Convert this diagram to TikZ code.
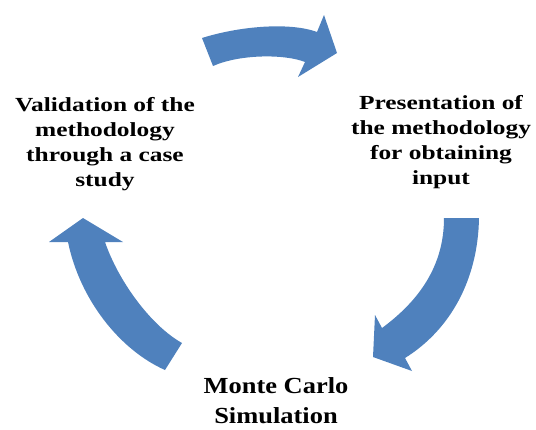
\documentclass[tikz,border=0pt]{standalone}
\usepackage{fontspec}
\setmainfont{Liberation Serif}
\usepackage{graphicx}
\definecolor{arrowblue}{RGB}{79,129,189}
\begin{document}
\begin{tikzpicture}[x=1pt,y=-1pt,
  cyclearrow/.style={fill=arrowblue,draw=none},
  label/.style={inner sep=0pt,align=center}]
\useasboundingbox (0,0) rectangle (536,429);
% top arrow
\path[cyclearrow] (202,38) .. controls (240,26) and (290,22) .. (317,32)
  -- (324,15) -- (337,53) -- (298,77) -- (305,62)
  .. controls (285,54) and (240,54) .. (213,66) -- cycle;
% right arrow
\path[cyclearrow] (444,218) -- (479,218)
  .. controls (478,280) and (450,330) .. (405,358)
  -- (412,371) -- (373,357) -- (375,315) -- (382,328)
  .. controls (420,300) and (444,265) .. (444,218) -- cycle;
% left arrow
\path[cyclearrow] (182,343) -- (165,370)
  .. controls (120,350) and (80,300) .. (68,242)
  -- (49,242) -- (83,218) -- (123,242) -- (105,242)
  .. controls (118,280) and (150,325) .. (182,343) -- cycle;
\node[label] (val) at (105,144) {\scalebox{1.27}[1]{\fontsize{20}{25}\selectfont\bfseries
  \begin{tabular}{@{}c@{}}Validation of the\\ methodology\\ through a case\\ study\end{tabular}}};
\node[label] (pres) at (441,142) {\scalebox{1.27}[1]{\fontsize{20}{25}\selectfont\bfseries
  \begin{tabular}{@{}c@{}}Presentation of\\ the methodology\\ for obtaining\\ input\end{tabular}}};
\node[label] (mc) at (276,402) {\scalebox{1.15}[1]{\fontsize{23}{30}\selectfont\bfseries
  \begin{tabular}{@{}c@{}}Monte Carlo\\ Simulation\end{tabular}}};
\end{tikzpicture}
\end{document}
